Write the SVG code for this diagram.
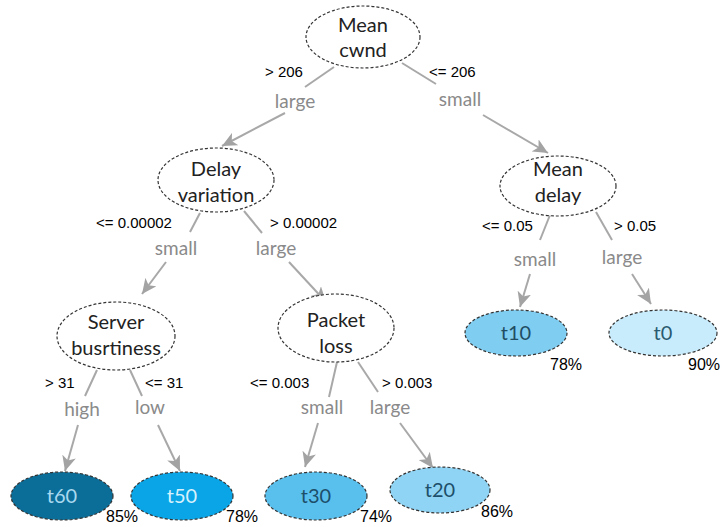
<svg xmlns="http://www.w3.org/2000/svg" width="722" height="527" viewBox="0 0 722 527">
<defs>
<marker id="arr" markerUnits="userSpaceOnUse" markerWidth="16" markerHeight="14" refX="15" refY="7" orient="auto">
<path d="M0,0 L15,7 L0,14 L4,7 z" fill="#a3a3a3"/>
</marker>
<style>
.e{stroke:#a8a8a8;stroke-width:2;fill:none}
.n{stroke:#333;stroke-width:1.2;stroke-dasharray:3 2}
.t{font-family:Lato,"Liberation Sans",sans-serif;font-size:20px;fill:#222;text-anchor:middle}
.l{font-family:Lato,"Liberation Sans",sans-serif;font-size:19px;fill:#8a8a8a;text-anchor:middle}
.c{font-family:"Liberation Sans",Arial,sans-serif;font-size:15px;fill:#000}
.p{font-family:"Liberation Sans",Arial,sans-serif;font-size:16px;fill:#000}
</style>
</defs>
<rect width="722" height="527" fill="#fff"/>
<g id="connectors">
<line class="e" x1="334" y1="67" x2="305" y2="87"/>
<line class="e" x1="285" y1="113" x2="222" y2="146" marker-end="url(#arr)"/>
<line class="e" x1="402" y1="63" x2="436" y2="84"/>
<line class="e" x1="483" y1="115" x2="548" y2="153" marker-end="url(#arr)"/>
<line class="e" x1="200" y1="213" x2="190" y2="232"/>
<line class="e" x1="166" y1="262" x2="142" y2="294" marker-end="url(#arr)"/>
<line class="e" x1="244" y1="211" x2="262" y2="233"/>
<line class="e" x1="289" y1="262" x2="326" y2="302" marker-end="url(#arr)"/>
<line class="e" x1="550" y1="215" x2="540" y2="240"/>
<line class="e" x1="530" y1="274" x2="520" y2="307" marker-end="url(#arr)"/>
<line class="e" x1="596" y1="212" x2="612" y2="240"/>
<line class="e" x1="632" y1="274" x2="651" y2="304" marker-end="url(#arr)"/>
<line class="e" x1="97" y1="370" x2="85" y2="396"/>
<line class="e" x1="78" y1="425" x2="65" y2="471" marker-end="url(#arr)"/>
<line class="e" x1="130" y1="370" x2="142" y2="396"/>
<line class="e" x1="158" y1="425" x2="180" y2="471" marker-end="url(#arr)"/>
<line class="e" x1="337" y1="362" x2="329" y2="397"/>
<line class="e" x1="318" y1="423" x2="305" y2="467" marker-end="url(#arr)"/>
<line class="e" x1="358" y1="362" x2="378" y2="392"/>
<line class="e" x1="400" y1="423" x2="433" y2="468" marker-end="url(#arr)"/>
<text class="l" x="295" y="108">large</text>
<text class="l" x="460" y="106">small</text>
<text class="l" x="176" y="255">small</text>
<text class="l" x="276" y="255">large</text>
<text class="l" x="535" y="266">small</text>
<text class="l" x="622" y="264">large</text>
<text class="l" x="82" y="416">high</text>
<text class="l" x="150" y="414">low</text>
<text class="l" x="322" y="414">small</text>
<text class="l" x="390" y="414">large</text>
<text class="c" x="265" y="77">&gt; 206</text>
<text class="c" x="429" y="77">&lt;= 206</text>
<text class="c" x="96" y="228">&lt;= 0.00002</text>
<text class="c" x="270" y="228">&gt; 0.00002</text>
<text class="c" x="482" y="231">&lt;= 0.05</text>
<text class="c" x="614" y="231">&gt; 0.05</text>
<text class="c" x="45" y="388">&gt; 31</text>
<text class="c" x="145" y="388">&lt;= 31</text>
<text class="c" x="250" y="388">&lt;= 0.003</text>
<text class="c" x="382" y="388">&gt; 0.003</text>
</g>
<g id="mean-cwnd">
<ellipse class="n" cx="363" cy="37" rx="57" ry="31" fill="#fff"/>
<text class="t" x="363" y="32">Mean</text>
<text class="t" x="363" y="57">cwnd</text>
</g>
<g id="delay-variation">
<ellipse class="n" cx="216" cy="180" rx="58" ry="32" fill="#fff"/>
<text class="t" x="216" y="176">Delay</text>
<text class="t" x="216" y="202">variation</text>
</g>
<g id="mean-delay">
<ellipse class="n" cx="558" cy="186" rx="58" ry="30" fill="#fff"/>
<text class="t" x="558" y="176">Mean</text>
<text class="t" x="558" y="202">delay</text>
</g>
<g id="server-busrtiness">
<ellipse class="n" cx="116" cy="336" rx="59" ry="34" fill="#fff"/>
<text class="t" x="116" y="329">Server</text>
<text class="t" x="116" y="355">busrtiness</text>
</g>
<g id="packet-loss">
<ellipse class="n" cx="336" cy="328" rx="58" ry="34" fill="#fff"/>
<text class="t" x="336" y="327">Packet</text>
<text class="t" x="336" y="353">loss</text>
</g>
<g id="t10">
<ellipse class="n" cx="516" cy="333" rx="51" ry="23" fill="#7fcdf1"/>
<text class="t" x="516" y="340" style="fill:#1f4d63">t10</text>
<text class="p" x="550" y="370">78%</text>
</g>
<g id="t0">
<ellipse class="n" cx="663" cy="333" rx="54" ry="23" fill="#c8ecfc"/>
<text class="t" x="663" y="340" style="fill:#2a5a70">t0</text>
<text class="p" x="688" y="370">90%</text>
</g>
<g id="t60">
<ellipse class="n" cx="62" cy="496" rx="51" ry="24" fill="#0b6e99"/>
<text class="t" x="62" y="503" style="fill:#a9d9ef">t60</text>
<text class="p" x="106" y="522">85%</text>
</g>
<g id="t50">
<ellipse class="n" cx="182" cy="496" rx="51" ry="24" fill="#0aa5e6"/>
<text class="t" x="182" y="503" style="fill:#d8f2fd">t50</text>
<text class="p" x="226" y="522">78%</text>
</g>
<g id="t30">
<ellipse class="n" cx="316" cy="496" rx="51" ry="24" fill="#59c0ee"/>
<text class="t" x="316" y="503" style="fill:#1d4f6a">t30</text>
<text class="p" x="360" y="522">74%</text>
</g>
<g id="t20">
<ellipse class="n" cx="440" cy="490" rx="50" ry="23" fill="#8fd4f4"/>
<text class="t" x="440" y="497" style="fill:#1d4f6a">t20</text>
<text class="p" x="481" y="517">86%</text>
</g>
</svg>
